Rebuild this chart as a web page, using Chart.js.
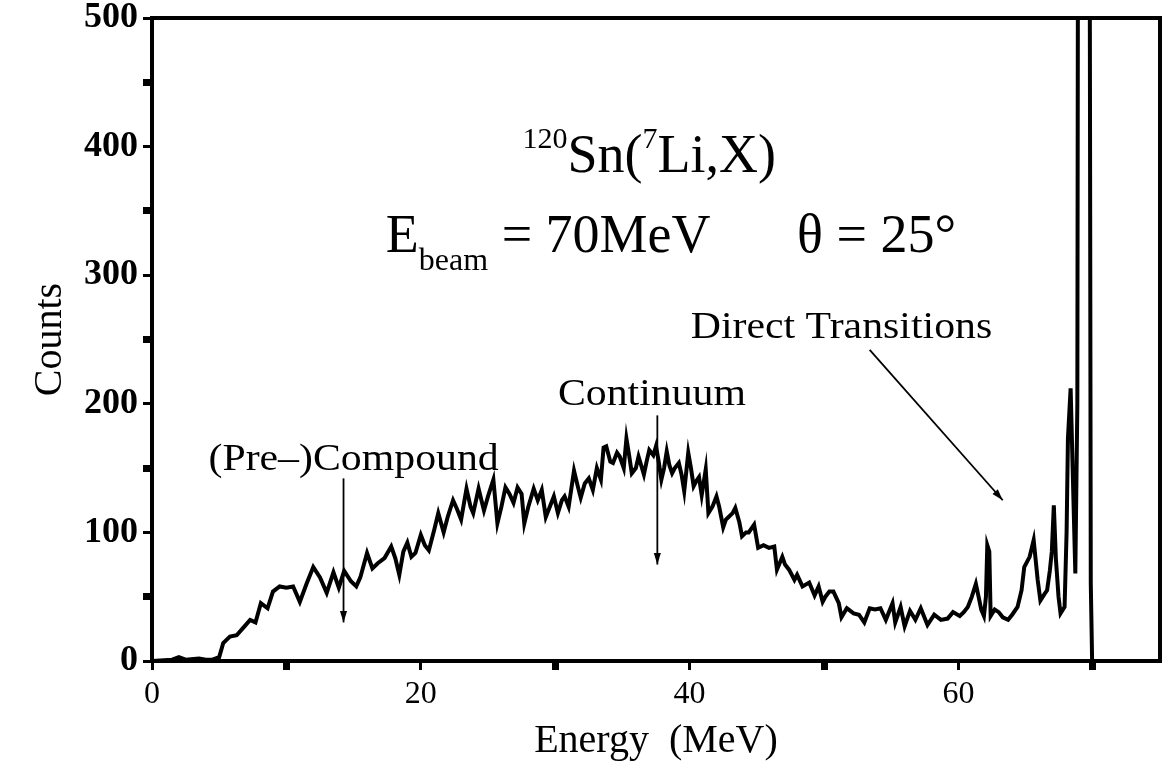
<!DOCTYPE html>
<html>
<head>
<meta charset="utf-8">
<script src="https://cdn.jsdelivr.net/npm/chart.js@4.4.1/dist/chart.umd.min.js"></script>
<style>
  html, body { margin: 0; padding: 0; background: #fff; }
  canvas { display: block; }
</style>
</head>
<body>
<canvas id="myChart" width="1169" height="768"></canvas>
<script>
// spectrum: energy (MeV) and counts
var energy = [
  0, 1.5, 2.0, 2.5, 3.5, 4.0, 4.5, 5.0, 5.3, 5.6,
  5.8, 6.3, 6.8, 7.3, 7.7, 8.1, 8.6, 9.0, 9.5, 10.0,
  10.5, 11.0, 11.5, 12.0, 12.5, 13.0, 13.5, 13.9, 14.3, 14.8,
  15.2, 15.5, 16.0, 16.4, 16.8, 17.3, 17.8, 18.1, 18.4, 18.7,
  19.0, 19.3, 19.6, 20.0, 20.3, 20.6, 21.0, 21.3, 21.7, 22.0,
  22.4, 22.7, 23.0, 23.4, 23.7, 23.9, 24.3, 24.7, 25.0, 25.4,
  25.7, 26.0, 26.3, 26.6, 26.9, 27.2, 27.5, 27.7, 28.0, 28.4,
  28.7, 29.0, 29.3, 29.6, 29.9, 30.2, 30.5, 30.7, 31.0, 31.4,
  31.7, 31.9, 32.2, 32.5, 32.8, 33.1, 33.4, 33.6, 33.8, 34.1,
  34.3, 34.6, 34.8, 35.1, 35.3, 35.5, 35.7, 36.0, 36.2, 36.4,
  36.6, 36.8, 37.0, 37.3, 37.5, 37.7, 37.9, 38.1, 38.3, 38.5,
  38.7, 38.9, 39.2, 39.4, 39.6, 39.9, 40.1, 40.3, 40.5, 40.7,
  40.9, 41.2, 41.4, 41.7, 42.0, 42.2, 42.5, 42.7, 42.9, 43.2,
  43.4, 43.7, 43.9, 44.2, 44.4, 44.8, 45.1, 45.5, 45.9, 46.3,
  46.5, 46.9, 47.1, 47.4, 47.8, 48.0, 48.4, 48.9, 49.3, 49.6,
  49.9, 50.1, 50.4, 50.7, 51.1, 51.3, 51.7, 52.2, 52.6, 53.0,
  53.4, 53.8, 54.2, 54.6, 55.1, 55.3, 55.7, 56.0, 56.4, 56.8,
  57.2, 57.7, 58.2, 58.7, 59.2, 59.6, 60.1, 60.4, 60.7, 61.0,
  61.3, 61.5, 61.7, 61.9, 62.05, 62.15, 62.3, 62.4, 62.7, 63.0,
  63.3, 63.7, 64.0, 64.4, 64.7, 64.9, 65.3, 65.6, 65.9, 66.1,
  66.4, 66.6, 66.8, 66.95, 67.1, 67.25, 67.45, 67.6, 67.9, 68.05,
  68.15, 68.35, 68.5, 68.7, 68.85, 68.95, 69.7, 69.85, 69.95, 72,
  75
];
var counts = [
  0, 1, 3, 1, 2, 1, 1, 3, 14, 17,
  19, 20, 26, 32, 30, 45, 41, 54, 58, 57,
  58, 46, 60, 73, 65, 53, 69, 57, 70, 62,
  58, 65, 84, 72, 76, 80, 89, 80, 67, 85,
  92, 81, 84, 98, 90, 86, 102, 115, 100, 112,
  125, 118, 110, 134, 120, 115, 134, 117, 128, 141,
  107, 120, 135, 130, 123, 135, 130, 107, 120, 134,
  125, 133, 112, 120, 128, 115, 125, 128, 120, 148,
  135, 127, 138, 142, 133, 150, 141, 166, 167, 155,
  154, 162, 159, 150, 173, 160, 146, 150, 159, 152,
  145, 155, 164, 160, 167, 155, 141, 150, 163, 152,
  146, 150, 154, 145, 132, 162, 150, 136, 140, 143,
  129, 149, 115, 120, 128, 120, 104, 110, 112, 115,
  119, 108, 97, 100, 100, 106, 88, 90, 88, 89,
  71, 81, 75, 71, 63, 67, 58, 61, 51, 58,
  46, 50, 54, 54, 45, 34, 41, 37, 36, 30,
  41, 40, 41, 32, 45, 30, 42, 27, 39, 32,
  41, 28, 36, 32, 33, 38, 35, 38, 42, 50,
  60, 50, 40, 35, 50, 90, 85, 35, 40, 38,
  34, 32, 36, 42, 55, 73, 81, 94, 63, 47,
  52, 55, 70, 85, 121, 80, 50, 37, 42, 100,
  173, 212, 150, 68, 200, 1000, 1000, 60, 0, 0,
  0
];
var xTickLabels = [0, 20, 40, 60];
var yTickLabels = [0, 100, 200, 300, 400, 500];

var serif = "'Liberation Serif', 'DejaVu Serif', serif";

function drawArrow(ctx, x1, y1, x2, y2) {
  var a = Math.atan2(y2 - y1, x2 - x1);
  ctx.beginPath();
  ctx.moveTo(x1, y1);
  ctx.lineTo(x2, y2);
  ctx.stroke();
  ctx.beginPath();
  ctx.moveTo(x2, y2);
  ctx.lineTo(x2 - 12 * Math.cos(a - 0.3), y2 - 12 * Math.sin(a - 0.3));
  ctx.lineTo(x2 - 12 * Math.cos(a + 0.3), y2 - 12 * Math.sin(a + 0.3));
  ctx.closePath();
  ctx.fill();
}

// text pieces: [string, size, dy]; sx stretches the text sideways like the scan
function drawPieces(ctx, pieces, x, y, align, sx) {
  sx = sx || 1;
  var w = 0;
  pieces.forEach(function (p) {
    ctx.font = p[1] + "px " + serif;
    w += ctx.measureText(p[0]).width;
  });
  var cx = align === "center" ? x - w * sx / 2 : x;
  ctx.save();
  ctx.translate(cx, y);
  ctx.scale(sx, 1);
  ctx.textAlign = "left";
  ctx.textBaseline = "alphabetic";
  var px = 0;
  pieces.forEach(function (p) {
    ctx.font = p[1] + "px " + serif;
    ctx.fillText(p[0], px, p[2]);
    px += ctx.measureText(p[0]).width;
  });
  ctx.restore();
}

var annotations = {
  id: "annotations",
  afterDatasetsDraw: function (chart) {
    var ctx = chart.ctx, xs = chart.scales.x, ys = chart.scales.y, a = chart.chartArea;
    var X = function (v) { return xs.getPixelForValue(v); };
    var Y = function (v) { return ys.getPixelForValue(v); };
    ctx.save();
    // frame
    ctx.strokeStyle = "#000";
    ctx.lineWidth = 4;
    ctx.strokeRect(a.left, a.top, a.right - a.left, a.bottom - a.top);

    ctx.fillStyle = "#000";
    drawPieces(ctx, [["120", 30, -24], ["Sn(", 54, 0], ["7", 30, -24], ["Li,X)", 54, 0]], X(37.0), Y(380), "center");
    drawPieces(ctx, [["E", 54, 0], ["beam", 32, 18], [" = 70MeV", 54, 0]], X(17.4), Y(318), "left");
    drawPieces(ctx, [["\u03b8 = 25\u00b0", 54, 0]], X(48.0), Y(318), "left");

    drawPieces(ctx, [["Direct Transitions", 38, 0]], X(51.3), Y(251), "center", 1.1);
    drawPieces(ctx, [["Continuum", 38, 0]], X(37.2), Y(199), "center", 1.1);
    drawPieces(ctx, [["(Pre\u2013)Compound", 38, 0]], X(15.0), Y(148.5), "center", 1.1);

    ctx.lineWidth = 1.8;
    drawArrow(ctx, X(53.4), Y(242), X(63.3), Y(125));
    drawArrow(ctx, X(37.6), Y(191), X(37.6), Y(75));
    drawArrow(ctx, X(14.25), Y(142), X(14.25), Y(30));
    ctx.restore();
  }
};

var ctx = document.getElementById("myChart").getContext("2d");

var chart = new Chart(ctx, {
  type: "line",
  data: {
    datasets: [
      {
        data: energy.map(function (e, i) { return { x: e, y: counts[i] }; }),
        borderColor: "#000",
        borderWidth: 4,
        pointRadius: 0,
        tension: 0,
        fill: false,
      },
    ],
  },
  options: {
    responsive: false,
    animation: false,
    devicePixelRatio: 1,
    layout: { padding: { top: 18, right: 9, left: 0, bottom: 0 } },
    plugins: { legend: { display: false }, tooltip: { enabled: false } },
    scales: {
      x: {
        type: "linear",
        min: 0,
        max: 75,
        afterFit: function (s) { s.height = 107; },
        afterBuildTicks: function (s) {
          s.ticks = [0, 10, 20, 30, 40, 50, 60, 70].map(function (v) { return { value: v }; });
        },
        ticks: {
          autoSkip: false,
          maxRotation: 0,
          color: "#000",
          padding: 5,
          font: { family: serif, size: 32 },
          callback: function (v) { return xTickLabels.indexOf(v) >= 0 ? String(v) : ""; },
        },
        grid: {
          drawOnChartArea: false,
          tickLength: 9,
          tickColor: "#000",
          tickWidth: function (c) { return xTickLabels.indexOf(c.tick.value) >= 0 ? 3 : 7; },
        },
        border: { display: true, color: "#000", width: 4 },
        title: {
          display: true,
          text: "Energy  (MeV)",
          color: "#000",
          font: { family: serif, size: 40 },
          padding: { top: 0, bottom: 3 },
        },
      },
      y: {
        min: 0,
        max: 500,
        afterFit: function (s) { s.width = 152; s.paddingTop = 0; },
        afterBuildTicks: function (s) {
          var t = [];
          for (var v = 0; v <= 500; v += 50) t.push({ value: v });
          s.ticks = t;
        },
        ticks: {
          color: "#000",
          padding: 5,
          font: { family: serif, size: 36, weight: "bold" },
          callback: function (v) { return yTickLabels.indexOf(v) >= 0 ? String(v) : ""; },
        },
        grid: {
          drawOnChartArea: false,
          tickLength: 9,
          tickColor: "#000",
          tickWidth: function (c) { return yTickLabels.indexOf(c.tick.value) >= 0 ? 3 : 7; },
        },
        border: { display: true, color: "#000", width: 4 },
        title: {
          display: true,
          text: "Counts",
          color: "#000",
          font: { family: serif, size: 40 },
          padding: { top: 26, bottom: 0 },
        },
      },
    },
  },
  plugins: [annotations],
});
</script>
</body>
</html>
